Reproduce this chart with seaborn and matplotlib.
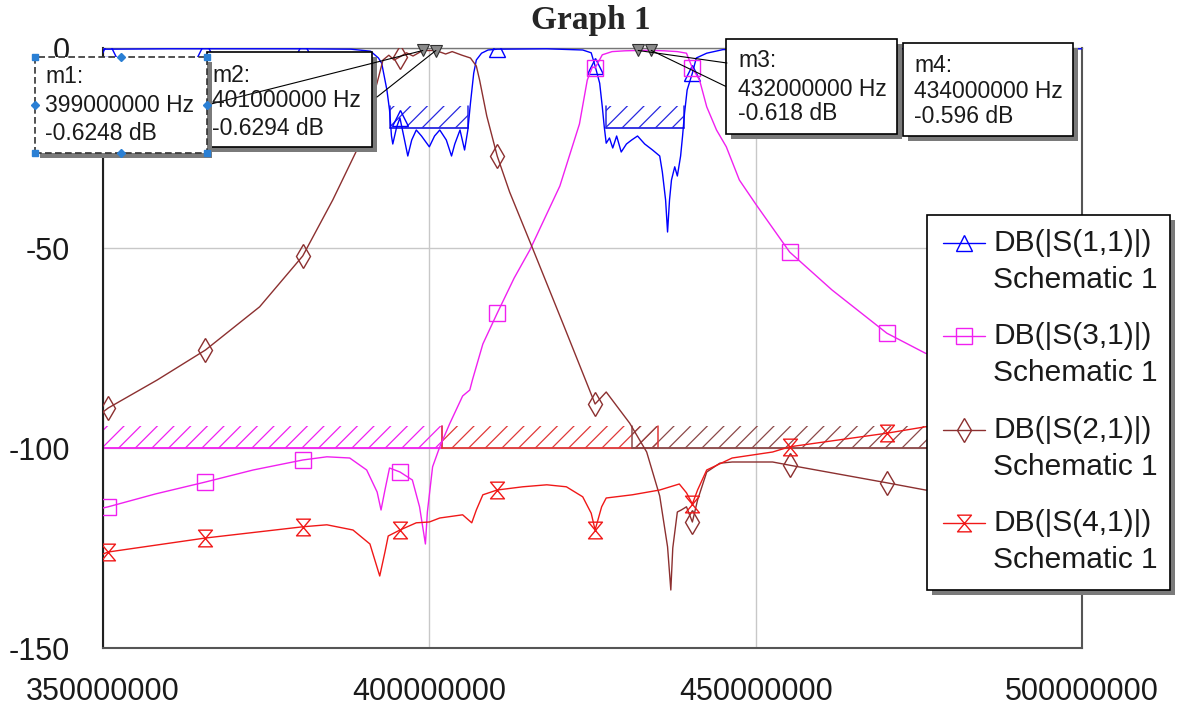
import numpy as np
import matplotlib
matplotlib.use("Agg")
import matplotlib.pyplot as plt
from matplotlib.patches import Rectangle
from matplotlib.lines import Line2D
from matplotlib.patches import ConnectionPatch
from matplotlib.path import Path
import seaborn as sns

# ---- data (frequency in MHz, magnitude in dB) ----
MARK_F = [350.8, 365.7, 380.6, 395.5, 410.4, 425.4, 440.3, 455.2, 470.1]

S11_F = [350.0, 350.8, 360.0, 365.7, 375.0, 380.6, 388.0, 391.0, 392.2, 392.7, 393.5, 393.9,
         394.2, 394.4, 395.0, 395.5, 396.2, 396.7, 397.3, 398.0, 398.8, 400.0, 400.8, 401.6,
         402.6, 403.4, 403.9, 404.7, 405.4, 405.9, 406.3, 406.8, 407.2, 408.0, 409.0, 410.4,
         418.0, 423.5, 424.8, 425.4, 426.1, 426.5, 426.8, 427.1, 427.6, 428.1, 428.7, 429.4,
         430.2, 431.0, 431.9, 433.0, 434.2, 435.3, 435.7, 436.2, 436.5, 436.8, 437.1, 437.6,
         438.0, 438.5, 438.8, 439.1, 439.5, 440.3, 440.9, 442.5, 445.0, 455.2, 470.1, 500.0]
S11_DB = [-0.3, -0.3, -0.2, -0.2, -0.2, -0.2, -0.3, -0.8, -2.5, -3.8, -10.5, -15.5,
          -22.0, -24.0, -19.7, -17.5, -23.0, -27.0, -23.0, -20.5, -22.0, -24.7, -22.0, -20.5,
          -23.0, -27.0, -24.0, -20.5, -25.5, -20.5, -13.8, -6.3, -3.0, -1.3, -0.5, -0.3,
          -0.2, -0.5, -1.2, -4.5, -8.8, -14.7, -19.7, -23.8, -22.5, -25.0, -22.0, -26.0,
          -24.0, -23.0, -22.0, -24.0, -25.5, -27.0, -31.0, -38.0, -46.0, -38.0, -33.0, -29.7,
          -32.0, -27.0, -22.0, -16.3, -10.5, -6.3, -2.5, -1.3, -0.4, -0.2, -0.2, -0.2]

S31_F = [350.0, 350.8, 358.0, 365.7, 373.0, 380.6, 384.3, 387.8, 390.4, 392.0, 392.6, 393.2,
         393.9, 395.5, 397.4, 398.5, 399.4, 399.7, 400.5, 401.6, 403.1, 405.1, 406.2, 406.6,
         408.2, 410.4, 413.0, 415.4, 420.0, 423.0, 424.2, 425.0, 425.4, 426.5, 428.0, 430.0,
         432.0, 434.0, 436.0, 438.0, 439.4, 440.3, 441.4, 442.5, 444.0, 445.5, 447.5, 450.0,
         455.2, 461.7, 470.1, 476.0, 485.0, 500.0]
S31_DB = [-115.0, -114.7, -111.5, -108.5, -105.5, -103.0, -102.2, -102.5, -105.5, -111.0, -115.5, -110.5,
          -105.0, -106.0, -108.0, -114.7, -124.0, -116.0, -104.7, -99.7, -94.0, -87.0, -85.5, -83.0,
          -74.0, -66.3, -57.5, -50.5, -34.5, -19.0, -8.0, -4.7, -5.0, -1.7, -0.9, -0.7,
          -0.618, -0.596, -0.7, -0.9, -1.3, -5.0, -8.0, -14.7, -20.5, -24.7, -33.0, -39.0,
          -51.0, -60.5, -71.3, -76.3, -80.0, -84.0]

S21_F = [350.0, 350.8, 358.3, 365.7, 374.0, 380.6, 385.2, 388.9, 390.5, 392.0, 392.9, 393.8,
         394.6, 395.5, 396.5, 397.5, 399.0, 401.0, 402.5, 403.5, 405.0, 406.3, 407.2, 407.7,
         408.8, 410.4, 412.3, 414.3, 415.8, 420.5, 425.4, 427.1, 430.7, 433.3, 435.3, 436.5,
         437.0, 437.3, 438.0, 438.6, 439.4, 440.3, 441.1, 442.5, 444.5, 446.4, 452.6, 455.2,
         470.1, 476.0, 500.0]
S21_DB = [-91.0, -90.0, -83.0, -75.5, -64.7, -52.0, -38.0, -25.5, -17.0, -8.7, -3.0, -1.8,
          -3.0, -2.2, -1.2, -2.0, -0.6248, -0.6294, -1.5, -0.9, -1.8, -2.5, -4.5, -8.0,
          -17.0, -27.0, -36.0, -44.0, -50.0, -69.0, -89.0, -86.0, -93.8, -101.0, -112.0, -124.7,
          -135.5, -125.0, -116.0, -115.5, -114.7, -118.5, -113.0, -106.0, -103.8, -103.5, -103.5, -104.3,
          -108.7, -110.5, -114.0]

S41_F = [350.0, 350.8, 365.7, 380.6, 384.3, 388.3, 390.9, 392.4, 393.2, 393.7, 395.5, 398.0,
         400.0, 401.6, 405.1, 406.5, 407.2, 408.2, 410.4, 414.3, 418.0, 421.0, 423.5, 424.8,
         425.4, 426.4, 427.1, 431.1, 435.3, 438.3, 439.4, 440.3, 441.1, 442.5, 446.4, 452.6,
         455.2, 470.1, 476.0, 500.0]
S41_DB = [-126.5, -126.0, -122.5, -119.7, -119.2, -120.5, -124.0, -132.0, -126.0, -122.0, -120.5, -118.7,
          -118.5, -117.5, -116.7, -118.7, -115.5, -111.7, -110.5, -109.7, -109.2, -109.7, -112.2, -116.3,
          -120.5, -114.7, -112.5, -111.7, -110.5, -109.0, -111.2, -114.0, -110.5, -105.5, -102.5, -101.0,
          -99.7, -96.3, -94.7, -92.5]

# spec limits: (start MHz, stop MHz, level dB)
SPEC_S11 = [(394.0, 406.0, -20.0), (427.0, 439.0, -20.0)]
SPEC_S31 = [(350.0, 402.0, -100.0)]
SPEC_S41 = [(402.0, 435.0, -100.0)]
SPEC_S21 = [(431.0, 500.0, -100.0)]

MARKER_NAMES = ["m1", "m2", "m3", "m4"]
MARKER_F = [399.0, 401.0, 432.0, 434.0]
MARKER_DB = [-0.6248, -0.6294, -0.618, -0.596]
MARKER_TEXT = ["-0.6248 dB", "-0.6294 dB", "-0.618 dB", "-0.596 dB"]

XTICKS = [350, 400, 450, 500]
XTICK_LABELS = ["350000000", "400000000", "450000000", "500000000"]
YTICKS = [0, -50, -100, -150]
YTICK_LABELS = ["0", "-50", "-100", "-150"]

LEGEND_LABELS = ["DB(|S(1,1)|)", "DB(|S(3,1)|)", "DB(|S(2,1)|)", "DB(|S(4,1)|)"]

# ---- style ----
sns.set_style("white")
plt.rcParams["font.family"] = ["Liberation Sans", "DejaVu Sans"]
plt.rcParams["hatch.linewidth"] = 0.9

C11, C31, C21, C41 = "#0000ff", "#f020f0", "#8c3030", "#f01818"
HOURGLASS = Path([(-0.5, 0.6), (0.5, 0.6), (-0.5, -0.6), (0.5, -0.6), (-0.5, 0.6)],
                 [Path.MOVETO, Path.LINETO, Path.LINETO, Path.LINETO, Path.CLOSEPOLY])

W, H = 1178, 709
fig = plt.figure(figsize=(W / 100, H / 100), dpi=100)
ax = fig.add_axes([103 / W, 1 - 648 / H, (1082 - 103) / W, 600 / H])


def fxy(px, py):
    return px / W, 1 - py / H


series = [
    (S11_F, S11_DB, C11, "^", 12),
    (S31_F, S31_DB, C31, "s", 11),
    (S21_F, S21_DB, C21, "d", 12),
    (S41_F, S41_DB, C41, HOURGLASS, 12),
]

# spec regions (hatched)
for specs, col in [(SPEC_S11, "#2828e0"), (SPEC_S31, C31), (SPEC_S41, "#e03838"), (SPEC_S21, "#8c4848")]:
    for f0, f1, lvl in specs:
        ax.add_patch(Rectangle((f0 * 1e6, lvl), (f1 - f0) * 1e6, 5.5, fill=False,
                               edgecolor=col, lw=0, hatch="//", zorder=1))
        ax.plot([f0 * 1e6, f1 * 1e6], [lvl, lvl], color=col, lw=1.3, zorder=2)
        ax.plot([f0 * 1e6, f0 * 1e6], [lvl, lvl + 5.5], color=col, lw=1.1, zorder=2)
        ax.plot([f1 * 1e6, f1 * 1e6], [lvl, lvl + 5.5], color=col, lw=1.1, zorder=2)

for fr, db, col, mk, ms in series:
    idx = [i for i, f in enumerate(fr) if f in MARK_F]
    sns.lineplot(x=np.array(fr) * 1e6, y=db, ax=ax, color=col, lw=1.0, sort=False,
                 estimator=None, marker=mk, markevery=idx, markersize=ms,
                 markerfacecolor="none", markeredgecolor=col, markeredgewidth=1.0, zorder=3)

# data markers m1..m4
ax.plot(np.array(MARKER_F) * 1e6, MARKER_DB, ls="none", marker="v", ms=9,
        mfc="#8a8a8a", mec="#303030", mew=0.8, clip_on=False, zorder=5)

ax.set_xlim(350e6, 500e6)
ax.set_ylim(-150, 0)
ax.set_xticks([x * 1e6 for x in XTICKS])
ax.set_xticklabels(XTICK_LABELS)
ax.set_yticks(YTICKS)
ax.set_yticklabels(YTICK_LABELS)
ax.tick_params(axis="both", length=0, labelsize=22, colors="#1a1a1a")
ax.tick_params(axis="x", pad=21)
ax.tick_params(axis="y", pad=24)
ax.grid(True, color="#c8c8c8", lw=1.0)
ax.set_axisbelow(True)
ax.set_xlabel("")
ax.set_ylabel("")
for side, col, lw in [("left", "#202020", 1.5), ("bottom", "#555555", 1.5),
                      ("right", "#555555", 1.5), ("top", "#777777", 1.0)]:
    ax.spines[side].set_color(col)
    ax.spines[side].set_linewidth(lw)

fig.text(591 / W, 1 - 20 / H, "Graph 1", ha="center", va="center", fontsize=24,
         fontweight="bold", family=["Liberation Serif", "DejaVu Serif"])


def box(x0, y0, x1, y1, z, dashed=False):
    sx, sy = fxy(x0 + 5, y1 + 5)
    fig.add_artist(Rectangle((sx, sy), (x1 - x0) / W, (y1 - y0) / H, transform=fig.transFigure,
                             facecolor="#7a7a7a", edgecolor="none", zorder=z))
    bx, by = fxy(x0, y1)
    fig.add_artist(Rectangle((bx, by), (x1 - x0) / W, (y1 - y0) / H, transform=fig.transFigure,
                             facecolor="white", edgecolor="#333333" if dashed else "black",
                             lw=1.2, ls=(0, (4, 2)) if dashed else "-", zorder=z + 0.1))


def leader(px, py, i, z):
    fig.add_artist(ConnectionPatch(xyA=fxy(px, py), coordsA=fig.transFigure,
                                   xyB=(MARKER_F[i] * 1e6, MARKER_DB[i]), coordsB=ax.transData,
                                   color="black", lw=0.8, zorder=z))


BOXES = [(35, 57, 207, 153), (207, 52, 372, 147), (726, 39, 897, 134), (903, 43, 1073, 136)]
TEXT_X = [45, 212, 738, 914]
BASELINES = [(83, 112, 140), (82, 107, 135), (67, 96, 120), (72, 98, 123)]

# marker readout boxes
leader(727, 87, 3, 20)
box(*BOXES[1], 21)
leader(377, 97, 1, 22)
leader(207, 105, 0, 22)
box(*BOXES[0], 23, dashed=True)
box(*BOXES[2], 21)
leader(727, 63, 2, 22)
box(*BOXES[3], 21)
for i, name in enumerate(MARKER_NAMES):
    lines = [name + ":", f"{MARKER_F[i] * 1e6:.0f} Hz", MARKER_TEXT[i]]
    for t, b in zip(lines, BASELINES[i]):
        fig.text(*fxy(TEXT_X[i], b), t, ha="left", va="baseline", fontsize=16.5,
                 color="#1a1a1a", zorder=30)

# selection handles on m1
hx = [35, 121, 207]
hy = [57, 105, 153]
for px in hx:
    for py in hy:
        if px == 121 and py == 105:
            continue
        corner = px != 121 and py != 105
        fig.add_artist(Line2D([fxy(px, py)[0]], [fxy(px, py)[1]], transform=fig.transFigure,
                              marker="s" if corner else "D", ms=5 if corner else 4.5,
                              color="#2a7fd4", ls="none", zorder=30))

# legend
box(927, 215, 1170, 590, 40)
for k, (fr, db, col, mk, ms) in enumerate(series):
    yl = 243 + 93.3 * k
    x0, y0 = fxy(943, yl)
    x1, _ = fxy(985, yl)
    fig.add_artist(Line2D([x0, x1], [y0, y0], transform=fig.transFigure, color=col, lw=1.0, zorder=41))
    fig.add_artist(Line2D([(x0 + x1) / 2], [y0], transform=fig.transFigure, ls="none", marker=mk,
                          ms=ms, mfc="none", mec=col, mew=1.0, zorder=41))
    fig.text(*fxy(993, yl), LEGEND_LABELS[k], ha="left", va="center", fontsize=21.5, color="#1a1a1a", zorder=42)
    fig.text(*fxy(993, yl + 37), "Schematic 1", ha="left", va="center", fontsize=21.5, color="#1a1a1a", zorder=42)

fig.savefig("out.png", dpi=100)
